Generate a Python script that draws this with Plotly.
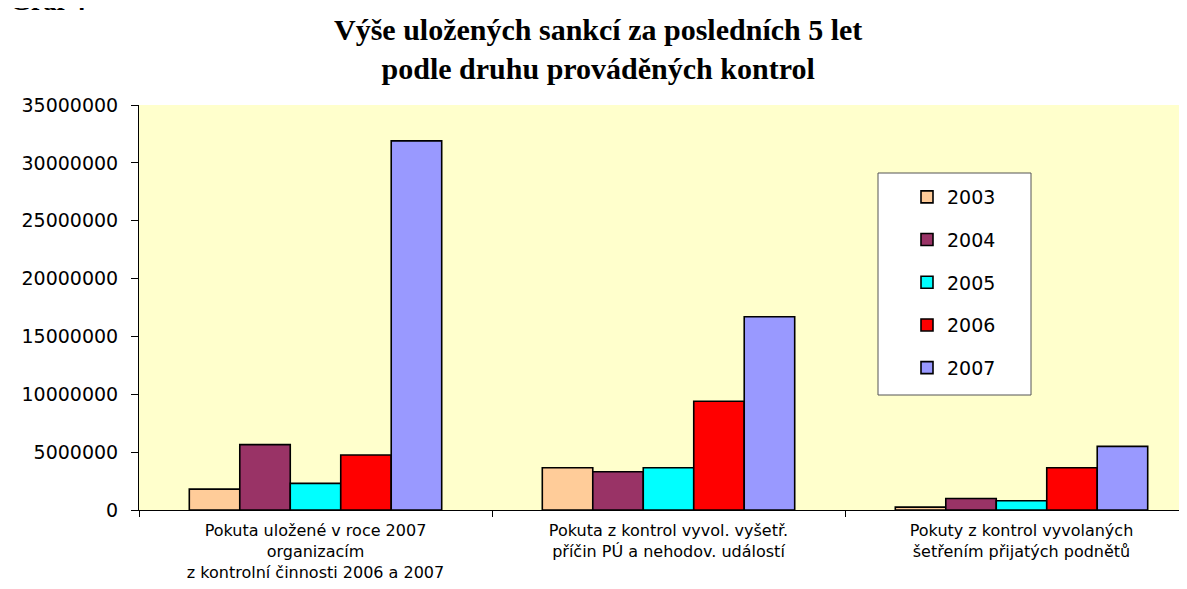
import plotly.graph_objects as go

categories = [
    "Pokuta uložené v roce 2007<br>organizacím<br>z kontrolní činnosti 2006 a 2007",
    "Pokuta z kontrol vyvol. vyšetř.<br>příčin PÚ a nehodov. událostí",
    "Pokuty z kontrol vyvolaných<br>šetřením přijatých podnětů",
]
years = ["2003", "2004", "2005", "2006", "2007"]
values = {
    "2003": [1800000, 3650000, 250000],
    "2004": [5650000, 3300000, 1000000],
    "2005": [2300000, 3650000, 800000],
    "2006": [4750000, 9400000, 3650000],
    "2007": [31900000, 16700000, 5500000],
}
colors = {
    "2003": "#FFCC99",
    "2004": "#993366",
    "2005": "#00FFFF",
    "2006": "#FF0000",
    "2007": "#9999FF",
}
y_ticks = [0, 5000000, 10000000, 15000000, 20000000, 25000000, 30000000, 35000000]

fig = go.Figure()
for yr in years:
    fig.add_trace(go.Bar(
        x=categories, y=values[yr], name=yr,
        marker=dict(color=colors[yr], line=dict(color="#000000", width=1.6)),
        legendgroup=yr,
    ))

# page body has an 8px margin -> figure coords = window coords - 8
OFF = 8
W, H = 1171, 573
L, R, T, B = 131, 0, 97, 71
plot_w = W - L - R
plot_h = H - T - B
cat_w = 353.0
xmax = -0.5 + plot_w / cat_w


def px(xw):
    return (xw - OFF - L) / plot_w


def py(yw):
    return 1 - (yw - OFF - T) / plot_h


fig.update_layout(
    width=W, height=H,
    margin=dict(l=L, r=R, t=T, b=B, autoexpand=False),
    paper_bgcolor="white",
    plot_bgcolor="#FFFFCC",
    barmode="group",
    bargap=0.285,
    bargroupgap=0,
    showlegend=True,
    font=dict(family="DejaVu Sans", color="black"),
    legend=dict(
        x=px(907), xanchor="left",
        y=py(178), yanchor="top",
        bgcolor="rgba(0,0,0,0)", borderwidth=0,
        font=dict(family="DejaVu Sans", size=19, color="black"),
        tracegroupgap=15,
        itemwidth=30,
    ),
    shapes=[dict(
        type="rect", xref="paper", yref="paper",
        x0=px(878), x1=px(1031),
        y0=py(395), y1=py(173),
        fillcolor="white", line=dict(color="#555555", width=1), layer="below",
    )],
    annotations=[
        dict(
            text="<b>Výše uložených sankcí za posledních 5 let<br>podle druhu prováděných kontrol</b>",
            xref="paper", yref="paper",
            x=px(598), xanchor="center",
            y=py(11), yanchor="top",
            showarrow=False,
            font=dict(family="Liberation Serif", size=30, color="black"),
        ),
        dict(
            text="<b>Graf 4</b>", xref="paper", yref="paper",
            x=px(8), xanchor="left",
            y=py(18), yanchor="bottom",
            showarrow=False,
            font=dict(family="Liberation Serif", size=27, color="black"),
        ),
    ],
)

fig.update_xaxes(
    range=[-0.5, xmax],
    showline=True, linecolor="#000000", linewidth=1,
    ticks="outside", tickson="boundaries", ticklen=6, tickcolor="#000000",
    ticklabelstandoff=6,
    tickfont=dict(family="DejaVu Sans", size=16, color="black"),
    showgrid=False,
)
fig.update_yaxes(
    range=[0, 35000000],
    tickvals=y_ticks, ticktext=[str(v) for v in y_ticks],
    showline=True, linecolor="#000000", linewidth=1,
    ticks="outside", ticklen=7, tickcolor="#000000",
    ticklabelstandoff=9,
    tickfont=dict(family="DejaVu Sans", size=19, color="black"),
    showgrid=False, zeroline=False,
)

fig.write_html("out.html")
